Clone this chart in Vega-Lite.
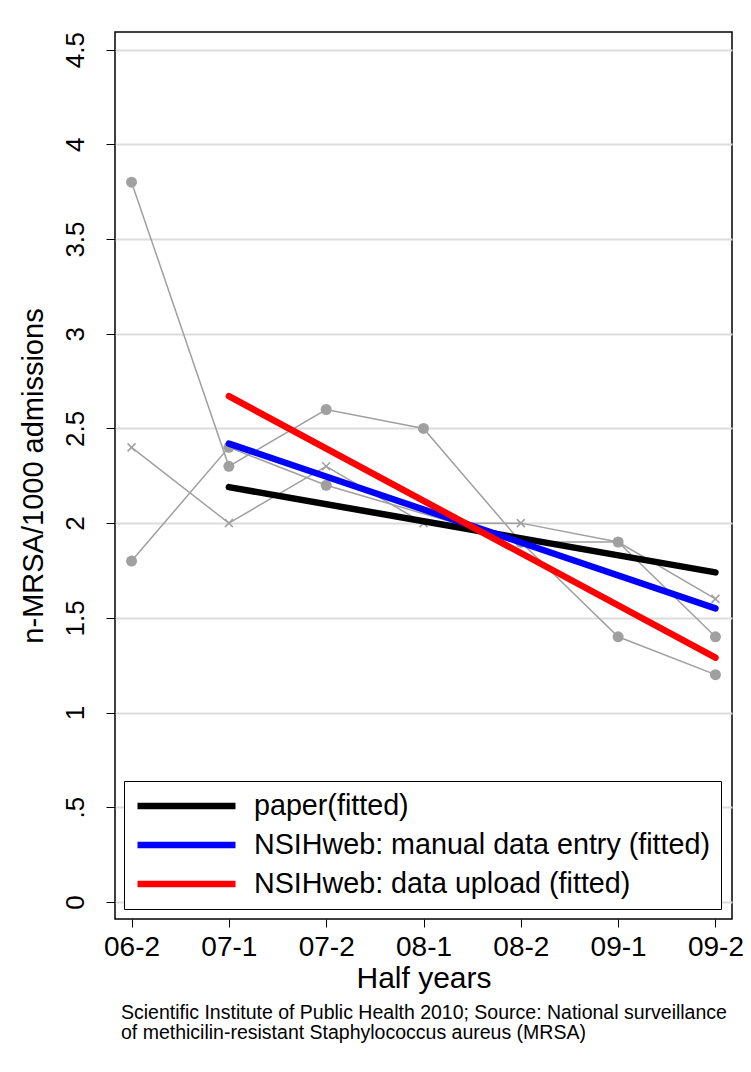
{
  "$schema": "https://vega.github.io/schema/vega-lite/v6.json",
  "width": 617,
  "height": 887,
  "autosize": {"type": "none"},
  "padding": {"left": 115, "top": 32, "right": 19, "bottom": 153},
  "background": "white",
  "config": {
    "font": "Liberation Sans",
    "view": {"stroke": "black", "strokeWidth": 1.5}
  },
  "title": {
    "text": ["Scientific Institute of Public Health 2010; Source: National surveillance", "of methicilin-resistant Staphylococcus aureus (MRSA)"],
    "orient": "bottom",
    "anchor": "start",
    "frame": "group",
    "fontSize": 19.5,
    "fontWeight": "normal",
    "lineHeight": 20,
    "offset": 11,
    "dx": 6,
    "color": "black"
  },
  "datasets": {
    "obs": [
      {"half": "06-2", "v": 3.8, "series": "A", "marker": "circle"},
      {"half": "07-1", "v": 2.3, "series": "A", "marker": "circle"},
      {"half": "07-2", "v": 2.6, "series": "A", "marker": "circle"},
      {"half": "08-1", "v": 2.5, "series": "A", "marker": "circle"},
      {"half": "08-2", "v": 1.9, "series": "A", "marker": "circle"},
      {"half": "09-1", "v": 1.4, "series": "A", "marker": "circle"},
      {"half": "09-2", "v": 1.2, "series": "A", "marker": "circle"},
      {"half": "06-2", "v": 1.8, "series": "B", "marker": "circle"},
      {"half": "07-1", "v": 2.4, "series": "B", "marker": "circle"},
      {"half": "07-2", "v": 2.2, "series": "B", "marker": "circle"},
      {"half": "08-2", "v": 1.9, "series": "B", "marker": "circle"},
      {"half": "09-1", "v": 1.9, "series": "B", "marker": "circle"},
      {"half": "09-2", "v": 1.4, "series": "B", "marker": "circle"},
      {"half": "06-2", "v": 2.4, "series": "C", "marker": "cross"},
      {"half": "07-1", "v": 2.0, "series": "C", "marker": "cross"},
      {"half": "07-2", "v": 2.3, "series": "C", "marker": "cross"},
      {"half": "08-1", "v": 2.0, "series": "C", "marker": "cross"},
      {"half": "08-2", "v": 2.0, "series": "C", "marker": "cross"},
      {"half": "09-1", "v": 1.9, "series": "C", "marker": "cross"},
      {"half": "09-2", "v": 1.6, "series": "C", "marker": "cross"}
    ],
    "fit": [
      {"half": "07-1", "v": 2.19, "fit": "paper(fitted)"},
      {"half": "09-2", "v": 1.74, "fit": "paper(fitted)"},
      {"half": "07-1", "v": 2.42, "fit": "NSIHweb: manual data entry (fitted)"},
      {"half": "09-2", "v": 1.55, "fit": "NSIHweb: manual data entry (fitted)"},
      {"half": "07-1", "v": 2.67, "fit": "NSIHweb: data upload (fitted)"},
      {"half": "09-2", "v": 1.29, "fit": "NSIHweb: data upload (fitted)"}
    ]
  },
  "encoding": {
    "x": {
      "field": "half",
      "type": "ordinal",
      "scale": {"type": "point", "domain": ["06-2", "07-1", "07-2", "08-1", "08-2", "09-1", "09-2"], "padding": 0.17},
      "axis": {
        "title": "Half years",
        "titleFontSize": 30,
        "titleFontWeight": "normal",
        "titleColor": "black",
        "titlePadding": 2,
        "labelFontSize": 28,
        "labelColor": "black",
        "labelAngle": 0,
        "labelPadding": 6,
        "tickColor": "black",
        "tickSize": 8,
        "tickWidth": 1,
        "domain": false,
        "grid": false
      }
    },
    "y": {
      "field": "v",
      "type": "quantitative",
      "scale": {"domain": [-0.09, 4.593], "nice": false, "zero": false},
      "axis": {
        "title": "n-MRSA/1000 admissions",
        "titleFontSize": 29,
        "titleFontWeight": "normal",
        "titleColor": "black",
        "titlePadding": 14,
        "values": [0, 0.5, 1, 1.5, 2, 2.5, 3, 3.5, 4, 4.5],
        "labelExpr": "datum.value == 0.5 ? '.5' : format(datum.value, '~g')",
        "labelAngle": 270,
        "labelFontSize": 26,
        "labelColor": "black",
        "labelPadding": 18,
        "tickColor": "black",
        "tickSize": 9,
        "tickWidth": 1,
        "domain": false,
        "grid": true,
        "gridColor": "#dcdcdc",
        "gridWidth": 2
      }
    }
  },
  "layer": [
    {
      "data": {"name": "obs"},
      "mark": {"type": "line", "color": "#a0a0a0", "strokeWidth": 1.5},
      "encoding": {"detail": {"field": "series"}}
    },
    {
      "data": {"name": "obs"},
      "transform": [{"filter": "datum.marker == 'circle'"}],
      "mark": {"type": "point", "shape": "circle", "filled": true, "color": "#a0a0a0", "opacity": 1, "size": 121}
    },
    {
      "data": {"name": "obs"},
      "transform": [{"filter": "datum.marker == 'cross'"}],
      "mark": {"type": "point", "shape": "M-1,-1L1,1M-1,1L1,-1", "filled": false, "color": "#a0a0a0", "opacity": 1, "size": 64, "strokeWidth": 1.5}
    },
    {
      "data": {"name": "fit"},
      "mark": {"type": "line", "strokeWidth": 6.5, "strokeCap": "round"},
      "encoding": {
        "color": {
          "field": "fit",
          "type": "nominal",
          "scale": {
            "domain": ["paper(fitted)", "NSIHweb: manual data entry (fitted)", "NSIHweb: data upload (fitted)"],
            "range": ["#000000", "#0000ff", "#ff0000"]
          },
          "legend": {
            "title": null,
            "orient": "none",
            "legendX": 9,
            "legendY": 749,
            "direction": "vertical",
            "symbolType": "stroke",
            "symbolSize": 9604,
            "symbolStrokeWidth": 6.5,
            "clipHeight": 30,
            "rowPadding": 9,
            "labelFontSize": 28.7,
            "labelColor": "black",
            "labelOffset": 15,
            "labelLimit": 700,
            "padding": 10,
            "strokeColor": "black",
            "fillColor": "white"
          }
        }
      }
    }
  ]
}
